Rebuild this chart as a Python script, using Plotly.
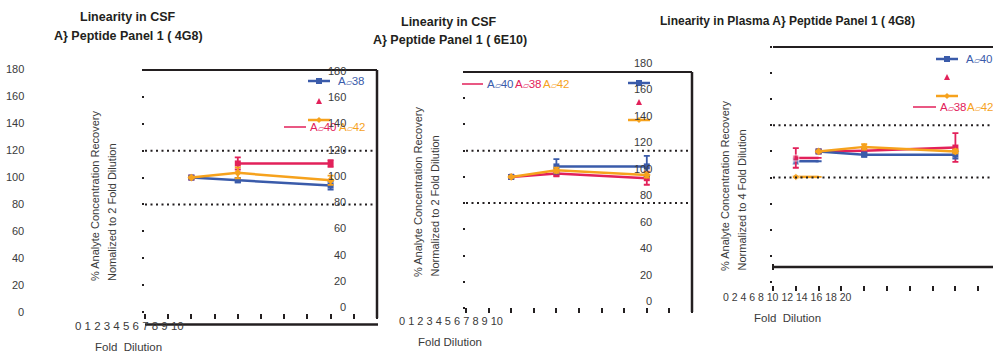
import plotly.graph_objects as go

W, H = 993, 360
FONT = "Liberation Sans, Arial, sans-serif"
BLUE = "#3A5BAA"
RED = "#E2215A"
ORANGE = "#F6A21D"
INK = "#231F20"
TXT = "#3A3A3A"

# ---------------- data ----------------
fold = [2, 4, 8]            # fold dilution, CSF panels
fold_p3 = [4, 8, 16]        # fold dilution, plasma panel
stub_p3 = [2, 4]            # short leading segments in the plasma panel

# Linearity in CSF, 4G8
p1_blue = [100, 98, 94]
p1_blue_err = [0.6, 1.5, 3]
p1_orange = [100, 103.5, 98]
p1_orange_err = [0.6, 4, 3.5]
p1_red = [100, 110.5, 110.5]
p1_red_err = [0.6, 4.5, 2.5]

# Linearity in CSF, 6E10
p2_blue = [100, 108, 108]
p2_blue_err = [0.6, 5.5, 8]
p2_orange = [100, 105, 101.5]
p2_orange_err = [0.6, 2, 2]
p2_red = [100, 102.5, 99]
p2_red_err = [0.6, 2, 5]

# Linearity in Plasma, 4G8
p3_blue = [100, 97.5, 97.5]
p3_blue_err = [0.6, 1.5, 3]
p3_orange = [100, 103.5, 100]
p3_orange_err = [0.6, 2, 1.5]
p3_red = [100, 100.5, 103]
p3_red_err = [0.6, 3, 11]
p3_blue_stub = [92.5, 92.5]
p3_blue_stub_err = [2, 0]
p3_red_stub = [95, 95]
p3_red_stub_err = [7.5, 0]
p3_orange_stub = [80.5, 80.5]
p3_orange_stub_err = [0.5, 0]

y_tick_labels = ["180", "160", "140", "120", "100", "80", "60", "40", "20", "0"]
x_tick_labels_10 = [str(v) for v in range(0, 11)]
x_tick_labels_20 = [str(v) for v in range(0, 21, 2)]

BOX = "<span style='font-size:8px'>\u25b1</span>"
legend_p1 = ["A" + BOX + "38", "A" + BOX + "40", "A" + BOX + "42"]
legend_p2 = ["A" + BOX + "40", "A" + BOX + "38", "A" + BOX + "42"]
legend_p3 = ["A" + BOX + "40", "A" + BOX + "38", "A" + BOX + "42"]


def fx(px):
    return px / W


def fy(py):
    return 1 - py / H


fig = go.Figure()


def series(xa, ya, xs, ys, errs, color, symbol, joined=True, stub=False):
    common = dict(xaxis=xa, yaxis=ya, hoverinfo="skip", showlegend=False)
    if stub:
        fig.add_trace(go.Scatter(
            x=xs, y=ys, mode="lines+markers",
            line=dict(color=color, width=2.5),
            marker=dict(color=color, symbol=symbol, size=[6, 0]),
            error_y=dict(type="data", array=errs, color=color, thickness=1.8, width=3),
            **common))
        return
    if not joined:
        fig.add_trace(go.Scatter(
            x=xs[:1], y=ys[:1], mode="markers",
            marker=dict(color=color, symbol=symbol, size=6),
            error_y=dict(type="data", array=errs[:1], color=color, thickness=1.8, width=3),
            **common))
        xs, ys, errs = xs[1:], ys[1:], errs[1:]
    fig.add_trace(go.Scatter(
        x=xs, y=ys, mode="lines+markers",
        line=dict(color=color, width=2.5),
        marker=dict(color=color, symbol=symbol, size=6),
        error_y=dict(type="data", array=errs, color=color, thickness=1.8, width=3),
        **common))


# panel 1
series("x", "y", fold, p1_red, p1_red_err, RED, "square", joined=False)
series("x", "y", fold, p1_blue, p1_blue_err, BLUE, "square")
series("x", "y", fold, p1_orange, p1_orange_err, ORANGE, "diamond")
# panel 2
series("x2", "y2", fold, p2_red, p2_red_err, RED, "square")
series("x2", "y2", fold, p2_blue, p2_blue_err, BLUE, "square", joined=False)
series("x2", "y2", fold, p2_orange, p2_orange_err, ORANGE, "diamond")
# panel 3
series("x3", "y3", stub_p3, p3_blue_stub, p3_blue_stub_err, BLUE, "square", stub=True)
series("x3", "y3", stub_p3, p3_red_stub, p3_red_stub_err, RED, "square", stub=True)
series("x3", "y3", stub_p3, p3_orange_stub, p3_orange_stub_err, ORANGE, "diamond", stub=True)
series("x3", "y3", fold_p3, p3_red, p3_red_err, RED, "square")
series("x3", "y3", fold_p3, p3_blue, p3_blue_err, BLUE, "square")
series("x3", "y3", fold_p3, p3_orange, p3_orange_err, ORANGE, "diamond")


def axes(n, x0, x1, ybot, ytop, xrange, tick_y, dtick):
    sx = "" if n == 1 else str(n)
    xa = dict(domain=[fx(x0), fx(x1)], range=xrange, anchor="free", position=fy(tick_y),
              tickmode="linear", tick0=0, dtick=dtick, ticks="outside", ticklen=5,
              tickwidth=2, tickcolor=INK, showticklabels=False, showgrid=False,
              zeroline=False, showline=False, fixedrange=True)
    ya = dict(domain=[fy(ybot), fy(ytop)], range=[0, 180], anchor="x" + sx,
              tickmode="linear", tick0=0, dtick=20, ticks="outside", ticklen=2,
              tickwidth=2, tickcolor=INK, showticklabels=False, showgrid=False,
              zeroline=False, showline=False, fixedrange=True)
    fig.layout["xaxis" + sx] = xa
    fig.layout["yaxis" + sx] = ya


axes(1, 145, 377, 312, 70, [0, 10], 313, 1)
axes(2, 466, 692, 308, 72, [0, 10], 307, 1)
axes(3, 773, 993, 282, 47, [0, 20 * (993 - 773) / (1001 - 773)], 285, 2)

shapes = []


def pline(x0, y0, x1, y1, width=2, color=INK, dash=None):
    shapes.append(dict(type="line", xref="paper", yref="paper",
                       x0=fx(x0), y0=fy(y0), x1=fx(x1), y1=fy(y1),
                       line=dict(color=color, width=width, dash=dash)))


# dotted acceptance bands at 80 % and 120 %
for sx in ["", "2", "3"]:
    for lvl in (120, 80):
        shapes.append(dict(type="line", xref="x" + sx + " domain", yref="y" + sx,
                           x0=0, x1=1, y0=lvl, y1=lvl,
                           line=dict(color=INK, width=2, dash="2px,3.5px")))

# frame lines
pline(144, 70, 377, 70, 2)
pline(377, 70, 377, 318, 2.5)
pline(145, 324.5, 378, 324.5, 2.5)
pline(465, 72, 692, 72, 2)
pline(692, 72, 692, 312, 2.5)
pline(773, 47, 993, 47, 2)
pline(773, 267, 993, 267, 2.5)
pline(773, 264, 773, 270, 2)


def marker_square(cx, cy, s, color):
    shapes.append(dict(type="rect", xref="paper", yref="paper",
                       x0=fx(cx - s / 2), x1=fx(cx + s / 2), y0=fy(cy + s / 2), y1=fy(cy - s / 2),
                       fillcolor=color, line=dict(width=0)))


def marker_path(pts, color):
    d = "M " + " L ".join(f"{fx(a):.5f},{fy(b):.5f}" for a, b in pts) + " Z"
    shapes.append(dict(type="path", xref="paper", yref="paper", path=d,
                       fillcolor=color, line=dict(width=0)))


def triangle(cx, cy, s, color):
    marker_path([(cx - s / 2, cy + s / 2), (cx + s / 2, cy + s / 2), (cx, cy - s / 2)], color)


def diamond(cx, cy, s, color):
    marker_path([(cx - s / 2, cy), (cx, cy - s / 2), (cx + s / 2, cy), (cx, cy + s / 2)], color)


annotations = []


def text(x, y, s, size=13, color=TXT, xanchor="center", yanchor="middle", angle=0, bold=False):
    annotations.append(dict(xref="paper", yref="paper", x=fx(x), y=fy(y), text=s,
                            showarrow=False, xanchor=xanchor, yanchor=yanchor,
                            textangle=angle, borderpad=0,
                            font=dict(family=FONT, size=size, color=color,
                                      weight="bold" if bold else "normal")))


# legend keys
def legend_block(cx, y_top, y_mid, y_bot):
    pline(cx - 11, y_top, cx + 11, y_top, 2.5, BLUE)
    marker_square(cx, y_top, 6, BLUE)
    triangle(cx, y_mid, 6, RED)
    pline(cx - 11, y_bot, cx + 11, y_bot, 2.5, ORANGE)
    diamond(cx, y_bot, 6, ORANGE)


LEG = 11.5
legend_block(319, 81, 101, 120)
text(337, 81, legend_p1[0], LEG, BLUE, xanchor="left")
pline(284, 127, 306, 127, 1.5, RED)
text(309, 127, legend_p1[1], LEG, RED, xanchor="left")
text(338, 127, legend_p1[2], LEG, ORANGE, xanchor="left")

legend_block(639, 83, 102, 120)
pline(462, 84, 483, 84, 1.5, RED)
text(486, 84, legend_p2[0], LEG, BLUE, xanchor="left")
text(514, 84, legend_p2[1], LEG, RED, xanchor="left")
text(542, 84, legend_p2[2], LEG, ORANGE, xanchor="left")

legend_block(947, 59, 77, 96)
text(965, 59, legend_p3[0], LEG, BLUE, xanchor="left")
pline(913, 107, 936, 107, 1.5, RED)
text(939, 107, legend_p3[1], LEG, RED, xanchor="left")
text(966, 107, legend_p3[2], LEG, ORANGE, xanchor="left")


# y tick label columns
def y_labels(right, top, bottom, size=11):
    n = len(y_tick_labels)
    for i, lab in enumerate(y_tick_labels):
        yy = top + (bottom - top) * i / (n - 1)
        text(right, yy, lab, size, TXT, xanchor="right")


y_labels(25, 69, 312)
y_labels(347, 71, 307)
y_labels(653, 63, 301)

# x tick label strings
text(129, 326, " ".join(x_tick_labels_10), 11.5)
text(451, 321, " ".join(x_tick_labels_10), 11)
text(787, 297, " ".join(x_tick_labels_20), 10.5)

# axis titles
text(128, 347, "Fold\u00a0 Dilution", 11.5)
text(450, 342, "Fold Dilution", 11.5)
text(787, 318, "Fold\u00a0 Dilution", 11.5)

YT = 11
text(95, 282, "% Analyte Concentration Recovery", YT, yanchor="bottom", angle=-90)
text(112, 282, "Nomalized to 2 Fold Dilution", YT, yanchor="bottom", angle=-90)
text(418, 278, "% Analyte Concentration Recovery", YT, yanchor="bottom", angle=-90)
text(434, 278, "Normalized to 2 Fold Dilution", YT, yanchor="bottom", angle=-90)
text(725, 272, "% Analyte Concentration Recovery", YT, yanchor="bottom", angle=-90)
text(741, 272, "Normalized to 4 Fold Dilution", YT, yanchor="bottom", angle=-90)

# titles
TT = 12.5
text(128, 17, "Linearity in CSF", TT, INK, bold=True)
text(128, 36, "A} Peptide Panel 1 ( 4G8)", TT, INK, bold=True)
text(449, 22, "Linearity in CSF", TT, INK, bold=True)
text(450, 40, "A} Peptide Panel 1 ( 6E10)", TT, INK, bold=True)
text(659, 21, "Linearity in Plasma A} Peptide Panel 1 ( 4G8)", 12, INK, xanchor="left", bold=True)

fig.update_layout(width=W, height=H, margin=dict(l=0, r=0, t=0, b=0),
                  paper_bgcolor="white", plot_bgcolor="white", showlegend=False,
                  shapes=shapes, annotations=annotations)

fig.write_html("out.html")
